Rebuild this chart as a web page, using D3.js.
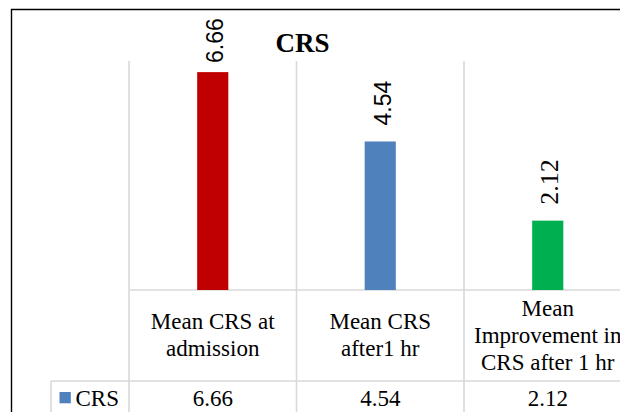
<!DOCTYPE html>
<html><head><meta charset="utf-8">
<script src="https://cdn.jsdelivr.net/npm/d3@7"></script>
<style>
html,body{margin:0;padding:0;background:#fff;}
svg{display:block;}
.serif{font-family:"Liberation Serif","Times New Roman",Times,serif;}
.sans{font-family:"Liberation Sans",Arial,sans-serif;}
</style></head>
<body>
<svg id="chart" width="620" height="412"></svg>
<script>
// ---- data ----
const title = "CRS";
const seriesName = "CRS";
const categories = ["Mean CRS at admission", "Mean CRS after1 hr", "Mean Improvement in CRS after 1 hr"];
const values = [6.66, 4.54, 2.12];
const valueLabels = ["6.66", "4.54", "2.12"];
const yDomain = [0, 7];

// ---- style ----
const barColors = ["#C00000", "#4F81BD", "#00B050"];
const legendColor = "#4F81BD";
const gridColor = "#d9d9d9";

const svg = d3.select("#chart");
const W = 620, H = 412;
svg.append("rect").attr("width", W).attr("height", H).attr("fill", "#fff");

// layout
const plotLeft = 129, colStep = 167.5;
const plotTop = 61, baseY = 290, headerBottom = 381, tableBottom = 440, rowLeft = 51;

const x = d3.scaleBand().domain(categories)
  .range([plotLeft, plotLeft + colStep * categories.length]).padding(0);
const y = d3.scaleLinear().domain(yDomain).range([baseY, plotTop]);
const barW = x.bandwidth() * 0.186;

// outer chart border
svg.append("path")
  .attr("d", `M11.5,${H + 5}V9.5H${W + 5}`)
  .attr("fill", "none").attr("stroke", "#000").attr("stroke-width", 1.4);

// grid / table lines
const g = svg.append("g").attr("stroke", gridColor).attr("stroke-width", 1.6).attr("fill", "none");
const edges = categories.map(c => x(c)).concat([x.range()[1]]);
edges.forEach(ex => {
  g.append("line").attr("x1", ex).attr("x2", ex).attr("y1", y(yDomain[1])).attr("y2", tableBottom);
});
g.append("line").attr("x1", plotLeft).attr("x2", W + 5).attr("y1", baseY).attr("y2", baseY);
g.append("line").attr("x1", rowLeft).attr("x2", W + 5).attr("y1", headerBottom).attr("y2", headerBottom);
g.append("line").attr("x1", rowLeft).attr("x2", rowLeft).attr("y1", headerBottom).attr("y2", tableBottom);

// bars
svg.append("g").selectAll("rect").data(values).join("rect")
  .attr("x", (d, i) => x(categories[i]) + x.bandwidth() / 2 - barW / 2)
  .attr("width", barW)
  .attr("y", d => y(d))
  .attr("height", d => y(0) - y(d))
  .attr("fill", (d, i) => barColors[i]);

// value labels (rotated)
const labelClass = ["sans", "sans", "serif"];
const labelSizes = [23, 23, 26];
svg.append("g").selectAll("text").data(values).join("text")
  .attr("class", (d, i) => labelClass[i])
  .attr("transform", (d, i) => {
    const cx = x(categories[i]) + x.bandwidth() / 2 + 10.5;
    const cy = Math.max(y(d) - 16, 63);
    return `translate(${cx},${cy}) rotate(-90)`;
  })
  .attr("text-anchor", "start")
  .style("font-size", (d, i) => labelSizes[i] + "px")
  .attr("fill", "#000")
  .text((d, i) => valueLabels[i]);

// title
svg.append("text").attr("class", "serif").attr("x", 302.5).attr("y", 52)
  .attr("text-anchor", "middle")
  .style("font-weight", "bold").style("font-size", "27px").attr("fill", "#000")
  .text(title);

// header (category) labels with wrapping
const lineH = 27, maxW = 152;
const header = svg.append("g").attr("class", "serif").style("font-size", "23px").attr("fill", "#000").attr("text-anchor", "middle");
categories.forEach(c => {
  const cx = x(c) + x.bandwidth() / 2;
  const t = header.append("text").attr("x", cx);
  const words = c.split(" ");
  const lines = [];
  let cur = [];
  const probe = header.append("text");
  words.forEach(w => {
    const test = cur.concat([w]).join(" ");
    probe.text(test);
    if (cur.length && probe.node().getComputedTextLength() > maxW) {
      lines.push(cur.join(" "));
      cur = [w];
    } else cur.push(w);
  });
  if (cur.length) lines.push(cur.join(" "));
  probe.remove();
  const midBase = 342.5;
  const first = midBase - (lines.length - 1) * lineH / 2;
  lines.forEach((ln, k) => {
    t.append("tspan").attr("x", cx).attr("y", first + k * lineH).text(ln);
  });
});

// data table row
const row = svg.append("g").attr("class", "serif").style("font-size", "23px").attr("fill", "#000");
row.append("rect").attr("x", 59.5).attr("y", 392).attr("width", 11.3).attr("height", 11.3).attr("fill", legendColor);
row.append("text").attr("x", 75.5).attr("y", 405.5).text(seriesName);
row.selectAll("text.val").data(values).join("text").attr("class", "val")
  .attr("x", (d, i) => x(categories[i]) + x.bandwidth() / 2)
  .attr("y", 405.5).attr("text-anchor", "middle")
  .text((d, i) => valueLabels[i]);
</script>
</body></html>
